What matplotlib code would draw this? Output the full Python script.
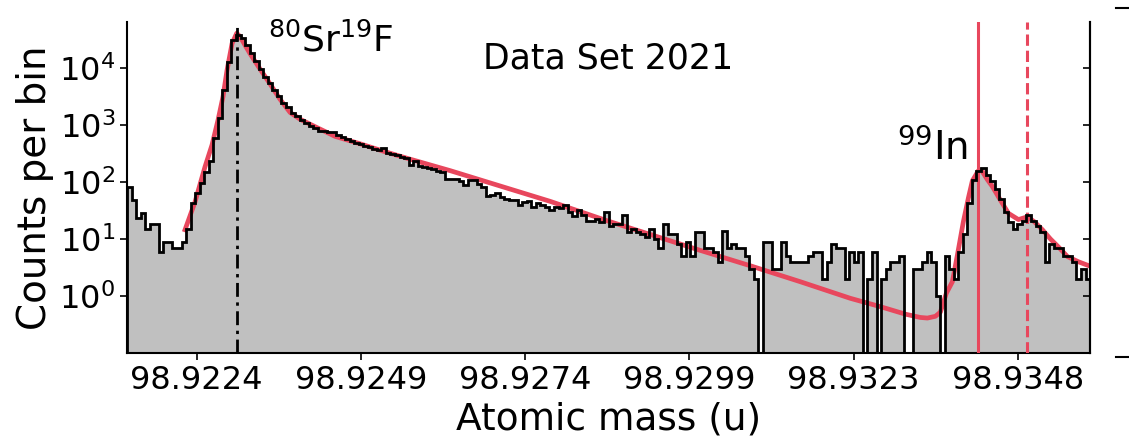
import numpy as np
import matplotlib
matplotlib.use('Agg')
import matplotlib.pyplot as plt
from matplotlib.ticker import FormatStrFormatter, NullLocator
from matplotlib.lines import Line2D

# histogram counts per bin
counts = [83, 48, 23, 29, 15, 18, 18, 6, 9, 9, 7, 7, 9, 15, 43, 65, 95, 151, 234, 589,
          1318, 4074, 12880, 30900, 38000, 33110, 25120, 18620, 13490, 9772,
          7079, 5370, 4074, 3162, 2455, 2042, 1622, 1413, 1202, 1072,
          955, 871, 794, 780, 759, 741, 661, 603, 562, 525,
          490, 457, 427, 407, 372, 363, 389, 316, 309, 295,
          275, 263, 200, 229, 191, 186, 178, 166, 158, 151,
          112, 115, 114, 102, 89, 110, 107, 93, 83, 56,
          59, 65, 55, 51, 48, 49, 40, 45, 47, 37,
          42, 40, 37, 32, 37, 35, 40, 30, 25, 32,
          26, 21, 21, 22, 20, 30, 17, 18, 18, 26,
          13, 15, 13, 12, 11, 15, 10, 7, 18, 12,
          12, 8, 5, 9, 5, 13, 13, 7, 7, 6,
          4, 14, 7, 8, 7, 7, 5, 3, 2, 0,
          9, 9, 3, 3, 9, 5, 4, 4, 4, 4,
          5, 6, 6, 2, 4, 8, 7, 7, 2, 6,
          4, 6, 0, 2, 6, 0, 2, 3, 4, 4,
          5, 0, 0, 3, 3, 4, 6, 4, 1, 0,
          5, 3, 2, 6, 12, 43, 110, 158, 174, 132,
          102, 74, 51, 30, 20, 15, 18, 21, 26, 21,
          17, 13, 4, 8, 7, 7, 5, 5, 4, 2,
          3, 2]
hist_lo, hist_hi = 98.92139, 98.93590

# fitted model curve
fit_mass = [98.922264, 98.922415, 98.922566, 98.922671, 98.922762, 98.922837,
            98.922897, 98.922973, 98.923043, 98.923093, 98.923169, 98.923244,
            98.923395, 98.923545, 98.923696, 98.923847, 98.923998, 98.924224,
            98.924525, 98.924900, 98.925279, 98.925656, 98.926259, 98.927012,
            98.927766, 98.928595, 98.929273, 98.930027, 98.930781, 98.931534,
            98.932288, 98.932740, 98.933117, 98.933343, 98.933449, 98.933570,
            98.933645, 98.933735, 98.933826, 98.933901, 98.933991, 98.934067,
            98.934127, 98.934218, 98.934263, 98.934353, 98.934429, 98.934550,
            98.934670, 98.934821, 98.934957, 98.935062, 98.935183, 98.935303,
            98.935424, 98.935560, 98.935726, 98.935907]
fit_counts = [14.5, 44.7, 186, 447, 1230, 3160,
              9120, 26900, 40700, 35500, 25100, 17800,
              9550, 5250, 2820, 1660, 1260, 933,
              631, 468, 339, 251, 158, 85,
              45.7, 21.4, 12.0, 6.31, 3.39, 1.78,
              0.91, 0.65, 0.48, 0.42, 0.41, 0.44,
              0.52, 1.12, 1.78, 5.2, 20.0, 52.5,
              105, 158, 162, 110, 83, 47.9,
              28.2, 21.9, 24.5, 20.0, 14.5, 10.0,
              7.24, 4.90, 3.98, 3.31]

srf_mass = 98.923043
in_mass = 98.934218
in_m_mass = 98.934952

tick_pos = [98.92244, 98.924914, 98.927388, 98.929862, 98.932336, 98.93481]

red = '#e8475d'

fig = plt.figure(figsize=(11.29, 4.42), dpi=100)
ax = fig.add_axes([0.1125, 0.2014, 0.853, 0.7488])

edges = np.linspace(hist_lo, hist_hi, len(counts) + 1)
ax.stairs(counts, edges, fill=True, color='#c0c0c0', zorder=1)
ax.plot(fit_mass, fit_counts, color=red, lw=3.4, zorder=2)
ax.axvline(srf_mass, color='k', ls=(0, (5, 2, 1.2, 2)), lw=2, zorder=3)
ax.axvline(in_mass, color=red, lw=2.2, zorder=3)
ax.axvline(in_m_mass, color=red, ls='--', lw=2.2, zorder=3)
ax.stairs(counts, edges, color='k', lw=2, zorder=4)

ax.set_yscale('log')
ax.set_ylim(0.1, 6.4e4)
ax.set_xlim(hist_lo, hist_hi)
ax.set_yticks([1, 10, 100, 1e3, 1e4])
ax.yaxis.set_minor_locator(NullLocator())
ax.set_xticks(tick_pos)
ax.xaxis.set_major_formatter(FormatStrFormatter('%.4f'))
ax.tick_params(labelsize=23, length=5, width=1.2)
for s in ax.spines.values():
    s.set_linewidth(1.5)
ax.spines['top'].set_visible(False)

# inward ticks on the right spine
ax2 = ax.twinx()
ax2.set_yscale('log')
ax2.set_ylim(ax.get_ylim())
ax2.set_yticks([1, 10, 100, 1e3, 1e4])
ax2.yaxis.set_minor_locator(NullLocator())
ax2.tick_params(axis='y', direction='in', length=5, width=1.2, labelright=False)
for s in ['top', 'left', 'bottom']:
    ax2.spines[s].set_visible(False)
ax2.spines['right'].set_linewidth(1.5)

ax.set_xlabel('Atomic mass (u)', fontsize=27)
ax.set_ylabel('Counts per bin', fontsize=28)

ax.text(0.146, 0.945, r'$^{80}$Sr$^{19}$F', transform=ax.transAxes,
        fontsize=26, ha='left', va='center')
ax.text(0.5, 0.89, 'Data Set 2021', transform=ax.transAxes,
        fontsize=25, ha='center', va='center')
ax.text(0.8, 0.62, r'$^{99}$In', transform=ax.transAxes,
        fontsize=28, ha='left', va='center')

# stray marks at the right figure edge
for yy in [1 - 8 / 442, 1 - 357 / 442]:
    fig.add_artist(Line2D([1116 / 1129, 1128 / 1129], [yy, yy], color='k', lw=1.5))

fig.savefig('out.png', dpi=100)
